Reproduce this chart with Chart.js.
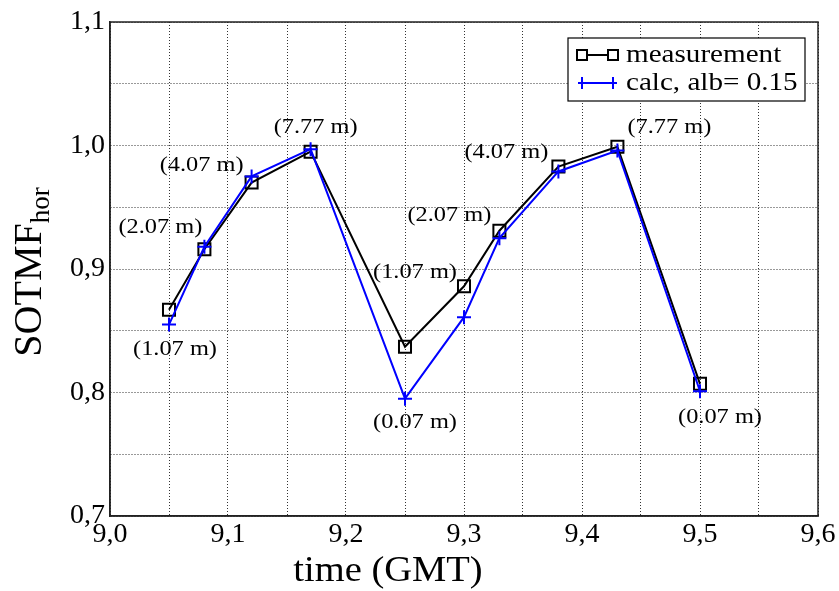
<!DOCTYPE html>
<html>
<head>
<meta charset="utf-8">
<script src="https://cdn.jsdelivr.net/npm/chart.js@4/dist/chart.umd.min.js"></script>
<style>
html,body{margin:0;padding:0;background:#fff;}
#wrap{width:839px;height:591px;position:relative;}
</style>
</head>
<body>
<div id="wrap"><canvas id="c" width="839" height="591"></canvas></div>
<script>
// ---- data ----
const times = [9.05, 9.08, 9.12, 9.17, 9.25, 9.30, 9.33, 9.38, 9.43, 9.50];
const measurement = [0.867, 0.916, 0.970, 0.995, 0.837, 0.886, 0.931, 0.983, 0.999, 0.807];
const calcAlb015 = [0.855, 0.918, 0.975, 0.997, 0.795, 0.861, 0.925, 0.979, 0.996, 0.801];
const heightLabels = ['(1.07 m)','(2.07 m)','(4.07 m)','(7.77 m)','(0.07 m)','(1.07 m)','(2.07 m)','(4.07 m)','(7.77 m)','(0.07 m)'];
const xTickLabels = ['9,0','9,1','9,2','9,3','9,4','9,5','9,6'];
const yTickLabels = ['0,7','0,8','0,9','1,0','1,1'];
const seriesNames = ['measurement', 'calc, alb= 0.15'];
const xTitle = 'time (GMT)';
const yTitleMain = 'SOTMF';
const yTitleSub = 'hor';

// ---- label placement style (side, dx, dy in px) ----
const labelPlacement = [
  ['below', 6, 25], ['above', -44, -19], ['above', -50, -11], ['above', 5, -22],
  ['below', 10, 24], ['above', -49, -14], ['above', -50, -15], ['above', -52, -14],
  ['above', 52, -19], ['below', 20, 26]
];

const SERIF = '"Liberation Serif", "DejaVu Serif", serif';

const ptsM = times.map((t, i) => ({x: t, y: measurement[i]}));
const ptsC = times.map((t, i) => ({x: t, y: calcAlb015[i]}));

function stretchText(ctx, text, x, y, sx) {
  ctx.save();
  ctx.translate(x, y);
  ctx.scale(sx, 1);
  ctx.fillText(text, 0, 0);
  ctx.restore();
}

const decorPlugin = {
  id: 'decor',
  afterDatasetsDraw(chart) {
    const ctx = chart.ctx;
    const xs = chart.scales.x, ys = chart.scales.y;
    const a = chart.chartArea;
    ctx.save();
    // frame
    ctx.strokeStyle = '#222';
    ctx.lineWidth = 1.5;
    ctx.strokeRect(a.left, a.top, a.right - a.left, a.bottom - a.top);

    // point labels
    ctx.fillStyle = '#000';
    ctx.font = '21px ' + SERIF;
    ctx.textAlign = 'center';
    ctx.textBaseline = 'middle';
    times.forEach((t, i) => {
      const px = xs.getPixelForValue(t);
      const pm = ys.getPixelForValue(measurement[i]);
      const pc = ys.getPixelForValue(calcAlb015[i]);
      const [side, dx, dy] = labelPlacement[i];
      const base = side === 'below' ? Math.max(pm, pc) : Math.min(pm, pc);
      stretchText(ctx, heightLabels[i], px + dx, base + dy, 1.16);
    });

    // legend
    const lx = 568, ly = 38, lw = 237, lh = 63;
    ctx.fillStyle = '#fff';
    ctx.fillRect(lx, ly, lw, lh);
    ctx.strokeStyle = '#000';
    ctx.lineWidth = 1.2;
    ctx.strokeRect(lx, ly, lw, lh);
    const rows = [ly + 17, ly + 45];
    ctx.strokeStyle = '#000';
    ctx.lineWidth = 2;
    ctx.beginPath(); ctx.moveTo(582, rows[0]); ctx.lineTo(613, rows[0]); ctx.stroke();
    [582, 613].forEach(cx => {
      ctx.fillStyle = '#fff';
      ctx.fillRect(cx - 5, rows[0] - 5, 10, 10);
      ctx.strokeRect(cx - 5, rows[0] - 5, 10, 10);
    });
    ctx.strokeStyle = '#0000ff';
    ctx.beginPath(); ctx.moveTo(578, rows[1]); ctx.lineTo(617, rows[1]); ctx.stroke();
    [582, 613].forEach(cx => {
      ctx.beginPath();
      ctx.moveTo(cx, rows[1] - 6); ctx.lineTo(cx, rows[1] + 6);
      ctx.stroke();
    });
    ctx.fillStyle = '#000';
    ctx.font = '26px ' + SERIF;
    ctx.textAlign = 'left';
    stretchText(ctx, seriesNames[0], 626, rows[0], 1.12);
    stretchText(ctx, seriesNames[1], 626, rows[1], 1.12);

    // x title
    ctx.font = '36px ' + SERIF;
    ctx.textAlign = 'center';
    ctx.textBaseline = 'middle';
    stretchText(ctx, xTitle, 388, 572, 1.07);

    // y title (rotated, with subscript)
    ctx.translate(30, 272);
    ctx.rotate(-Math.PI / 2);
    ctx.font = '40px ' + SERIF;
    const wMain = ctx.measureText(yTitleMain).width;
    ctx.font = '27px ' + SERIF;
    const wSub = ctx.measureText(yTitleSub).width;
    const total = wMain + wSub;
    ctx.textAlign = 'left';
    ctx.font = '40px ' + SERIF;
    ctx.fillText(yTitleMain, -total / 2, 0);
    ctx.font = '27px ' + SERIF;
    ctx.fillText(yTitleSub, -total / 2 + wMain, 12);
    ctx.restore();
  }
};

function isMajor(v) { return Math.abs(v * 10 - Math.round(v * 10)) < 1e-6; }

new Chart(document.getElementById('c'), {
  type: 'scatter',
  data: {
    datasets: [
      {
        label: seriesNames[0], data: ptsM, showLine: true,
        borderColor: '#000', backgroundColor: 'rgba(0,0,0,0)', borderWidth: 2,
        pointStyle: 'rect', pointRadius: 8.5, pointBorderWidth: 2,
        pointBorderColor: '#000', pointBackgroundColor: 'rgba(0,0,0,0)',
        order: 2
      },
      {
        label: seriesNames[1], data: ptsC, showLine: true,
        borderColor: '#0000ff', backgroundColor: 'rgba(0,0,0,0)', borderWidth: 2,
        pointStyle: 'cross', pointRadius: 7, pointBorderWidth: 2,
        pointBorderColor: '#0000ff',
        order: 1
      }
    ]
  },
  options: {
    responsive: false,
    animation: false,
    devicePixelRatio: 1,
    layout: { padding: { top: 22, right: 21, left: 0, bottom: 0 } },
    plugins: { legend: { display: false }, tooltip: { enabled: false } },
    scales: {
      x: {
        type: 'linear', min: 9.0, max: 9.6,
        afterFit(s) { s.height = 75; },
        ticks: {
          stepSize: 0.05, autoSkip: false, maxRotation: 0, padding: 2,
          color: '#000', font: { family: SERIF, size: 28 },
          callback(v) { return isMajor(v) ? xTickLabels[Math.round((v - 9.0) * 10)] : ''; }
        },
        grid: { color: '#333', lineWidth: 1, drawTicks: false },
        border: { display: true, color: '#222', width: 1.5, dash: [1, 2] }
      },
      y: {
        type: 'linear', min: 0.7, max: 1.1,
        afterFit(s) { s.width = 110; },
        ticks: {
          stepSize: 0.05, autoSkip: false, padding: 5,
          color: '#000', font: { family: SERIF, size: 28 },
          callback(v) { return isMajor(v) ? yTickLabels[Math.round((v - 0.7) * 10)] : ''; }
        },
        grid: { color: '#333', lineWidth: 1, drawTicks: false },
        border: { display: true, color: '#222', width: 1.5, dash: [1, 2] }
      }
    }
  },
  plugins: [decorPlugin]
});
</script>
</body>
</html>
